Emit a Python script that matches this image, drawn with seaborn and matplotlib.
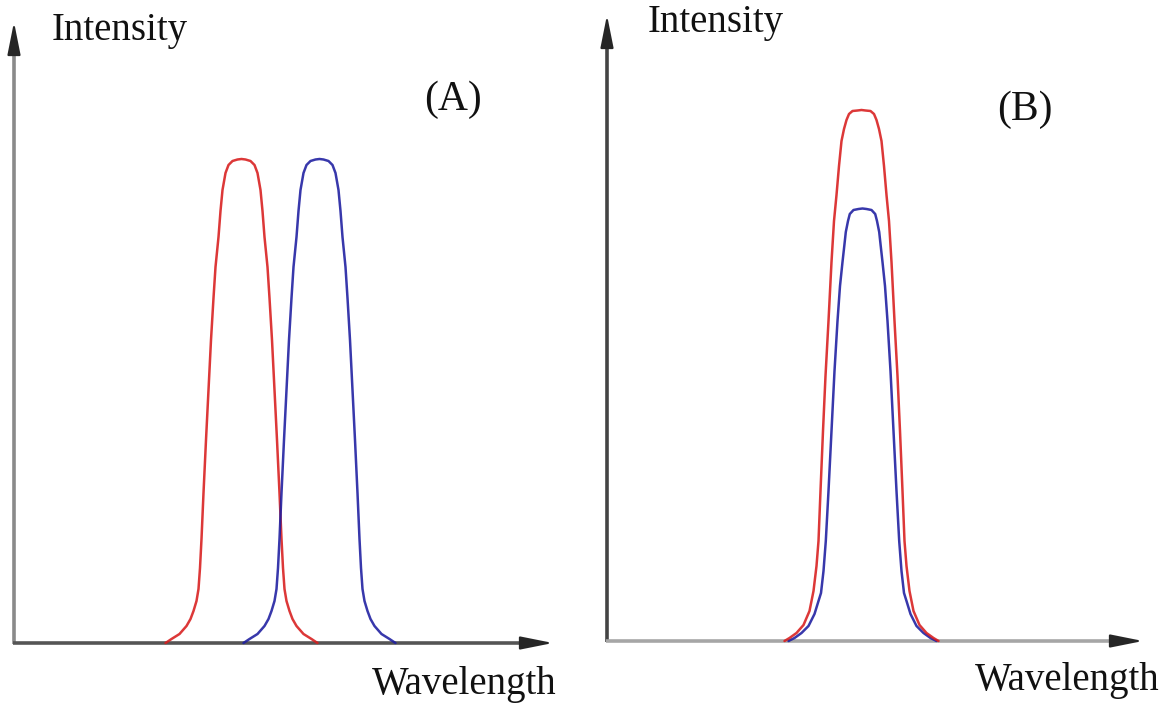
import matplotlib
matplotlib.use("Agg")
import matplotlib.pyplot as plt
import seaborn as sns
import pandas as pd

# ---------------- data (arbitrary units) ----------------
# Panel A: two shifted, equal-height, flat-topped bands
wavelength_red_a = [151.5, 157.5, 165.5, 172.5, 176.5, 179.5, 182.5, 184.5, 186, 187.5,
                    189.5, 192, 194.5, 197, 199.5, 201.5, 204.5, 206.5, 208.5, 211.5,
                    214.5, 218.5, 223.5, 227.5, 231.5, 236.5, 240.5, 243.5, 246.5, 248.5,
                    250.5, 253.5, 255.5, 258, 260.5, 263, 265.5, 267.5, 269, 270.5,
                    272.5, 275.5, 278.5, 282.5, 289.5, 297.5, 303.5]
wavelength_blue_a = [229.5, 235.5, 243.5, 250.5, 254.5, 257.5, 260.5, 262.5, 264, 265.5,
                     267.5, 270, 272.5, 275, 277.5, 279.5, 282.5, 284.5, 286.5, 289.5,
                     292.5, 296.5, 301.5, 305.5, 309.5, 314.5, 318.5, 321.5, 324.5, 326.5,
                     328.5, 331.5, 333.5, 336, 338.5, 341, 343.5, 345.5, 347, 348.5,
                     350.5, 353.5, 356.5, 360.5, 367.5, 375.5, 381.5]
intensity_a = [0, 4, 9, 17, 24, 32, 42, 54, 75, 104, 150, 203, 253, 303, 345, 376, 406,
               432, 453, 470, 478, 482, 483.5, 484, 483.5, 482, 478, 470, 453, 432, 406,
               376, 345, 303, 253, 203, 150, 104, 75, 54, 42, 32, 24, 17, 9, 4, 0]

# Panel B: two bands at the same wavelength, different heights
wavelength_red_b = [177.5, 182.5, 189.5, 196.5, 202.5, 206.5, 209.5, 211.5, 213.5, 216,
                    218.5, 221.5, 224.5, 227, 229.5, 232, 234.5, 237, 239.5, 242,
                    245.5, 250.5, 254.5, 258.5, 263.5, 267, 269.5, 272, 274.5, 277,
                    279.5, 282, 284.5, 287.5, 290.5, 293, 295.5, 297.5, 299.5, 302.5,
                    306.5, 312.5, 319.5, 326.5, 331.5]
intensity_red_b = [0, 3, 8, 16, 30, 50, 75, 100, 150, 210, 265, 320, 379, 420, 446, 475,
                   500, 512, 521, 527, 530, 530.5, 531, 530.5, 530, 527, 521, 512, 500,
                   475, 446, 420, 379, 320, 265, 210, 150, 100, 75, 50, 30, 16, 8, 3, 0]
wavelength_blue_b = [181.5, 187.5, 194.5, 201.5, 207.5, 211.5, 214, 216.5, 218.8, 221.5,
                     224.5, 227.5, 230.5, 233, 235.5, 237.5, 238.8, 241, 242.8, 246.5,
                     251.5, 255.5, 259.5, 264.5, 268.2, 270, 272.2, 273.5, 275.5, 278,
                     280.5, 283.5, 286.5, 289.5, 292.2, 294.5, 297, 299.5, 303.5, 309.5,
                     316.5, 323.5, 329.5]
intensity_blue_b = [0, 3, 8, 15, 27, 40, 48, 70, 100, 150, 210, 270, 320, 355, 379, 397,
                    409, 420, 427, 431, 432, 432.5, 432, 431, 427, 420, 409, 397, 379,
                    355, 320, 270, 210, 150, 100, 70, 48, 40, 27, 15, 8, 3, 0]

y_label = "Intensity"
x_label = "Wavelength"
panel_labels = ["(A)", "(B)"]

# ---------------- style ----------------
sns.set_theme(style="white")
plt.rcParams["font.family"] = ["Liberation Serif", "DejaVu Serif"]

W, H = 1165, 703
fig = plt.figure(figsize=(W / 100, H / 100), dpi=100)
fig.patch.set_facecolor("white")

RED = "#d81c1c"
BLUE = "#1c1ca0"


def px_axes(left, bottom, right, top):
    ax = fig.add_axes([left / W, 1 - bottom / H, (right - left) / W, (bottom - top) / H])
    ax.set_xlim(0, right - left)
    ax.set_ylim(0, bottom - top)
    ax.set_axis_off()
    return ax


def draw_curve(ax, xs, ys, color):
    df = pd.DataFrame({"wavelength": xs, "intensity": ys})
    sns.lineplot(data=df, x="wavelength", y="intensity", ax=ax, sort=False,
                 estimator=None, color=color, lw=1.8, alpha=0.88)
    for ln in ax.lines:
        ln.set_clip_on(False)


def draw_axes_arrows(ax, xtip, ytip, xcol, ycol):
    head = 28
    ax.plot([0, 0], [-1, ytip - head + 2], color=ycol, lw=2.6, clip_on=False,
            solid_capstyle="butt")
    ax.plot([-1, xtip - head + 2], [0, 0], color=xcol, lw=2.6, clip_on=False,
            solid_capstyle="butt")
    style = "-|>,head_length=1.0,head_width=0.2"
    ax.annotate("", xy=(0, ytip), xytext=(0, ytip - head),
                arrowprops=dict(arrowstyle=style, mutation_scale=20, lw=1.5,
                                color="#262626", shrinkA=0, shrinkB=0),
                annotation_clip=False)
    ax.annotate("", xy=(xtip, 0), xytext=(xtip - head, 0),
                arrowprops=dict(arrowstyle=style, mutation_scale=20, lw=1.5,
                                color="#262626", shrinkA=0, shrinkB=0),
                annotation_clip=False)


# Panel A (origin at pixel 14, 643)
axA = px_axes(14, 643, 600, 0)
draw_axes_arrows(axA, 539, 621, "#555555", "#8a8a8a")
draw_curve(axA, wavelength_red_a, intensity_a, RED)
draw_curve(axA, wavelength_blue_a, intensity_a, BLUE)

# Panel B (origin at pixel 607, 641)
axB = px_axes(607, 641, 1165, 0)
draw_axes_arrows(axB, 536, 626, "#a6a6a6", "#444444")
draw_curve(axB, wavelength_blue_b, intensity_blue_b, BLUE)
draw_curve(axB, wavelength_red_b, intensity_red_b, RED)

FS = 28
tc = "#111111"
fig.text(52 / W, 1 - 40 / H, y_label, fontsize=FS, color=tc, ha="left", va="baseline")
fig.text(648 / W, 1 - 32 / H, y_label, fontsize=FS, color=tc, ha="left", va="baseline")
fig.text(372 / W, 1 - 694 / H, x_label, fontsize=FS, color=tc, ha="left", va="baseline")
fig.text(975 / W, 1 - 690 / H, x_label, fontsize=FS, color=tc, ha="left", va="baseline")
fig.text(453 / W, 1 - 100 / H, panel_labels[0], fontsize=30, color=tc, ha="center", va="center")
fig.text(1025 / W, 1 - 110 / H, panel_labels[1], fontsize=30, color=tc, ha="center", va="center")

fig.savefig("out.png", dpi=100, facecolor="white")
